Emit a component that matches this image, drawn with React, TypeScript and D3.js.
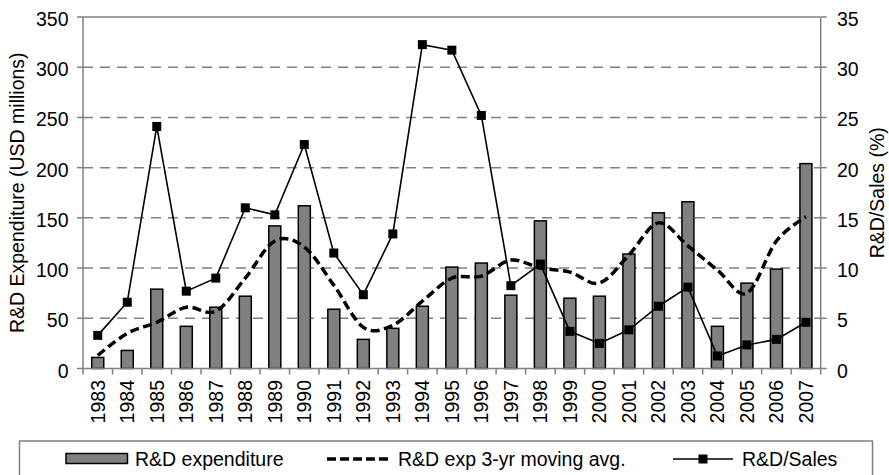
import React from "react";
import * as d3 from "d3";

const years = ["1983","1984","1985","1986","1987","1988","1989","1990","1991","1992","1993","1994","1995","1996","1997","1998","1999","2000","2001","2002","2003","2004","2005","2006","2007"];
const expenditure = [11, 18, 79, 42, 61, 72, 142, 162, 59, 29, 40, 62, 101, 105, 73, 147, 70, 72, 114, 155, 166, 42, 85, 99, 204];
const movingAvg = [13, 35, 46, 61, 57, 90, 127, 121, 83, 41, 43, 67, 90, 92, 108, 100, 96, 85, 113, 145, 122, 98, 75, 127, 151];
const rdSales = [3.3, 6.6, 24.1, 7.7, 9.0, 16.0, 15.3, 22.3, 11.5, 7.35, 13.4, 32.25, 31.7, 25.2, 8.25, 10.4, 3.7, 2.5, 3.85, 6.2, 8.1, 1.25, 2.35, 2.9, 4.6];
const leftTicks = [0, 50, 100, 150, 200, 250, 300, 350];
const rightTicks = [0, 5, 10, 15, 20, 25, 30, 35];

const W = 889, H = 475;
const L = 83, R = 820.7, T = 17, B = 368.5;
const FONT = "'Liberation Sans', Arial, sans-serif";
const FS = 19.5;
const GRAY = "#808080";

export default function App() {
  const x = d3.scaleBand<string>().domain(years).range([L, R]).padding(0);
  const yL = d3.scaleLinear().domain([0, 350]).range([B, T]);
  const yR = d3.scaleLinear().domain([0, 35]).range([B, T]);
  const bw = 12;
  const cx = (i: number) => (x(years[i]) as number) + x.bandwidth() / 2;

  const maLine = d3.line<number>().x((_, i) => cx(i)).y(d => yL(d)).curve(d3.curveCardinal.tension(0));
  const salesLine = d3.line<number>().x((_, i) => cx(i)).y(d => yR(d));

  const legY = 459;

  return (
    <svg width={W} height={H} style={{ position: "absolute", left: 0, top: 0, background: "#fff" }} fontFamily={FONT}>
      {/* gridlines */}
      {leftTicks.filter(t => t > 0 && t < 350).map(t => (
        <line key={"g" + t} x1={L} x2={R} y1={yL(t)} y2={yL(t)} stroke={GRAY} strokeWidth={1.5} strokeDasharray="10,7" />
      ))}
      <line x1={L} x2={R} y1={yL(350)} y2={yL(350)} stroke={GRAY} strokeWidth={1.5} />
      {/* bars */}
      {expenditure.map((v, i) => (
        <rect key={"b" + i} x={cx(i) - bw / 2} y={yL(v)} width={bw} height={yL(0) - yL(v)} fill={GRAY} stroke="#000" strokeWidth={1.5} />
      ))}
      {/* axes */}
      <line x1={L} x2={L} y1={T} y2={B} stroke={GRAY} strokeWidth={1.5} />
      <line x1={R} x2={R} y1={T} y2={B} stroke={GRAY} strokeWidth={1.5} />
      <line x1={L} x2={R} y1={B} y2={B} stroke={GRAY} strokeWidth={1.5} />
      {leftTicks.map(t => (
        <g key={"lt" + t}>
          <line x1={L - 6} x2={L} y1={yL(t)} y2={yL(t)} stroke={GRAY} strokeWidth={1.5} />
          <text x={68.5} y={yL(t) + 2} textAnchor="end" dominantBaseline="central" fontSize={FS} fill="#000">{t}</text>
        </g>
      ))}
      {rightTicks.map(t => (
        <g key={"rt" + t}>
          <line x1={R} x2={R + 6} y1={yR(t)} y2={yR(t)} stroke={GRAY} strokeWidth={1.5} />
          <text x={837} y={yR(t) + 2} textAnchor="start" dominantBaseline="central" fontSize={FS} fill="#000">{t}</text>
        </g>
      ))}
      {years.map((yr, i) => (
        <line key={"xt" + i} x1={x(yr) as number} x2={x(yr) as number} y1={B} y2={B + 6} stroke={GRAY} strokeWidth={1.5} />
      ))}
      <line x1={R} x2={R} y1={B} y2={B + 6} stroke={GRAY} strokeWidth={1.5} />
      {years.map((yr, i) => (
        <text key={"xl" + i} transform={`translate(${cx(i)},${380}) rotate(-90)`} textAnchor="end" dy="0.35em" fontSize={FS} fill="#000">{yr}</text>
      ))}
      {/* moving avg */}
      <path d={maLine(movingAvg) as string} fill="none" stroke="#000" strokeWidth={3.5} strokeDasharray="9,4.5" />
      {/* R&D/Sales */}
      <path d={salesLine(rdSales) as string} fill="none" stroke="#000" strokeWidth={1.6} />
      {rdSales.map((v, i) => (
        <rect key={"m" + i} x={cx(i) - 4.5} y={yR(v) - 4.5} width={9} height={9} fill="#000" />
      ))}
      {/* axis titles */}
      <text transform={`translate(17,${(T + B) / 2}) rotate(-90)`} textAnchor="middle" dominantBaseline="central" fontSize={FS} fill="#000">R&amp;D Expenditure (USD millions)</text>
      <text transform={`translate(877,${(T + B) / 2}) rotate(-90)`} textAnchor="middle" dominantBaseline="central" fontSize={FS} fill="#000">R&amp;D/Sales (%)</text>
      {/* legend */}
      <rect x={19.5} y={441} width={853} height={45} fill="#fff" stroke={GRAY} strokeWidth={1.5} />
      <rect x={66} y={453.5} width={61.5} height={10} fill={GRAY} stroke="#000" strokeWidth={1.5} />
      <text x={135} y={legY} dominantBaseline="central" fontSize={FS} fill="#000">R&amp;D expenditure</text>
      <line x1={327} x2={392} y1={legY} y2={legY} stroke="#000" strokeWidth={3.5} strokeDasharray="9,4" />
      <text x={398} y={legY} dominantBaseline="central" fontSize={FS} fill="#000">R&amp;D exp 3-yr moving avg.</text>
      <line x1={673} x2={733} y1={legY} y2={legY} stroke="#000" strokeWidth={1.6} />
      <rect x={703 - 4.5} y={legY - 4.5} width={9} height={9} fill="#000" />
      <text x={742} y={legY} dominantBaseline="central" fontSize={FS} fill="#000">R&amp;D/Sales</text>
    </svg>
  );
}
